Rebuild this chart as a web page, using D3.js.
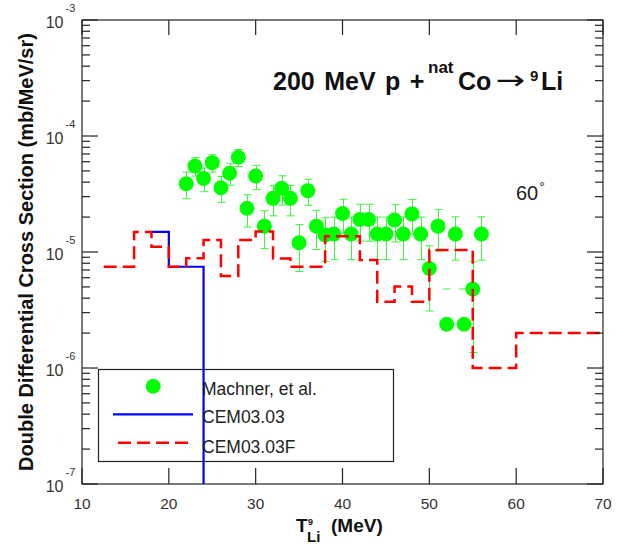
<!DOCTYPE html>
<html>
<head>
<meta charset="utf-8">
<script src="https://cdn.jsdelivr.net/npm/d3@7"></script>
<style>
  html, body { margin: 0; padding: 0; background: #fff; }
  svg { display: block; font-family: "Liberation Sans", Arial, Helvetica, sans-serif; }
</style>
</head>
<body>
<svg id="chart" width="629" height="547"></svg>
<script>
// Measured 9Li spectrum (Machner et al.), 60 degrees
const expEnergy = [22, 23, 24, 25, 26, 27, 28, 29, 30, 31, 32, 33, 34, 35, 36, 37, 38, 39,
                   40, 41, 42, 43, 44, 45, 46, 47, 48, 49, 50, 51, 52, 53, 54, 55, 56];
const expValue = [3.88e-5, 5.51e-5, 4.31e-5, 5.89e-5, 3.58e-5, 4.77e-5, 6.55e-5, 2.38e-5, 4.52e-5,
                  1.67e-5, 2.90e-5, 3.54e-5, 2.90e-5, 1.20e-5, 3.38e-5, 1.67e-5, 1.40e-5, 1.43e-5,
                  2.15e-5, 1.43e-5, 1.91e-5, 1.91e-5, 1.43e-5, 1.43e-5, 1.89e-5, 1.43e-5, 2.13e-5,
                  1.43e-5, 7.2e-6, 1.67e-5, 2.38e-6, 1.43e-5, 2.38e-6, 4.8e-6, 1.43e-5];
const expError = [1.0e-5, 1.0e-5, 1.0e-5, 1.0e-5, 0.9e-5, 1.0e-5, 1.1e-5, 0.74e-5, 1.07e-5,
                  0.6e-5, 0.85e-5, 1.0e-5, 0.85e-5, 0.52e-5, 0.85e-5, 0.62e-5, 0.57e-5, 0.57e-5,
                  0.7e-5, 0.57e-5, 0.67e-5, 0.67e-5, 0.57e-5, 0.57e-5, 0.67e-5, 0.57e-5, 0.7e-5,
                  0.57e-5, 0.41e-5, 0.65e-5, 0, 0.58e-5, 0, 0.344e-5, 0.58e-5];
// horizontal (energy) error on the low side, drawn dashed
const expXErrLow = { 55: 3.4 };

// CEM03.03 histogram (bin edges in MeV, bin contents)
const cemEdges = [18, 20, 24];
const cemValues = [1.49e-5, 7.46e-6];

// CEM03.03F histogram
const cemFEdges = [12.5, 16, 18, 20, 22, 24, 26, 28, 30, 32, 34, 38, 42, 44, 46, 48, 50, 55, 60, 70];
const cemFValues = [7.46e-6, 1.49e-5, 1.11e-5, 7.46e-6, 8.83e-6, 1.27e-5, 6.21e-6, 1.27e-5, 1.50e-5,
                    8.79e-6, 7.46e-6, 1.37e-5, 8.53e-6, 3.73e-6, 5.03e-6, 3.73e-6, 1.04e-5, 1.0e-6, 2.0e-6];

const xTickValues = [10, 20, 30, 40, 50, 60, 70];
const yDecades = [1e-7, 1e-6, 1e-5, 1e-4, 1e-3];
const yExponents = [-7, -6, -5, -4, -3];

const legendLabels = ["Machner, et al.", "CEM03.03", "CEM03.03F"];

const svg = d3.select("#chart");
const L = 82, R = 603, T = 20, B = 484;

const x = d3.scaleLinear().domain([10, 70]).range([L, R]);
const y = d3.scaleLog().domain([1e-7, 1e-3]).range([B, T]);

svg.append("defs").append("clipPath").attr("id", "plotclip")
  .append("rect").attr("x", L).attr("y", T).attr("width", R - L).attr("height", B - T);

const plot = svg.append("g").attr("clip-path", "url(#plotclip)");

// experimental points with error bars
const pts = expEnergy.map((e, i) => ({ e, v: expValue[i], err: expError[i], xl: expXErrLow[e] || 0 }));
const errColor = "#3cf53c";
const capW = 4;
const eb = plot.append("g").attr("stroke", errColor).attr("stroke-width", 1).attr("fill", "none");
pts.filter(d => d.err > 0).forEach(d => {
  const y0 = y(d.v + d.err), y1 = y(Math.max(d.v - d.err, 1e-9));
  const cx = Math.round(x(d.e)) + 0.5;
  eb.append("line").attr("x1", cx).attr("x2", cx).attr("y1", y0).attr("y2", y1);
  eb.append("line").attr("x1", cx - capW).attr("x2", cx + capW).attr("y1", y0).attr("y2", y0);
  eb.append("line").attr("x1", cx - capW).attr("x2", cx + capW).attr("y1", y1).attr("y2", y1);
});
pts.filter(d => d.xl > 0).forEach(d => {
  eb.append("line").attr("x1", x(d.e - d.xl)).attr("x2", x(d.e))
    .attr("y1", y(d.v)).attr("y2", y(d.v)).attr("stroke-dasharray", "7,9");
});
plot.append("g").selectAll("circle").data(pts).join("circle")
  .attr("cx", d => x(d.e)).attr("cy", d => y(d.v)).attr("r", 7.5)
  .attr("fill", "#00ff00");

// histogram step lines
function stepPoints(edges, values, dropToFloor) {
  const p = values.map((v, i) => [edges[i], v]);
  const last = edges[edges.length - 1];
  p.push([last, dropToFloor ? 1e-9 : values[values.length - 1]]);
  return p;
}
const yClamp = v => v < 1e-7 ? B + 10 : y(v);
const stepLine = d3.line().x(d => x(d[0])).y(d => yClamp(d[1])).curve(d3.curveStepAfter);

plot.append("path").attr("d", stepLine(stepPoints(cemEdges, cemValues, true)))
  .attr("fill", "none").attr("stroke", "#0000ff").attr("stroke-width", 2.2);
plot.append("path").attr("d", stepLine(stepPoints(cemFEdges, cemFValues, false)))
  .attr("fill", "none").attr("stroke", "#ff0000").attr("stroke-width", 2.5)
  .attr("stroke-dasharray", "13,6");

// frame
const axisColor = "#222";
svg.append("rect").attr("x", L).attr("y", T).attr("width", R - L).attr("height", B - T)
  .attr("fill", "none").attr("stroke", axisColor).attr("stroke-width", 1.2);

// x ticks (inward, bottom and top)
const xMajor = 16;
const tg = svg.append("g").attr("stroke", axisColor).attr("stroke-width", 1.2);
xTickValues.forEach(v => {
  const px = x(v);
  tg.append("line").attr("x1", px).attr("x2", px).attr("y1", B).attr("y2", B - xMajor);
  tg.append("line").attr("x1", px).attr("x2", px).attr("y1", T).attr("y2", T + 15);
});
svg.append("g").selectAll("text").data(xTickValues).join("text")
  .attr("x", d => x(d)).attr("y", 508.5).attr("text-anchor", "middle")
  .attr("font-size", 15.5).attr("fill", "#333").text(d => d);

// y ticks: decades major, 2..9 minor, on both sides
const yMinor = [];
yDecades.slice(0, -1).forEach(d => { for (let k = 2; k <= 9; k++) yMinor.push(d * k); });
yDecades.forEach(v => {
  const py = y(v);
  tg.append("line").attr("x1", L).attr("x2", L + 16).attr("y1", py).attr("y2", py);
  tg.append("line").attr("x1", R).attr("x2", R - 16).attr("y1", py).attr("y2", py);
});
yMinor.forEach(v => {
  const py = y(v);
  tg.append("line").attr("x1", L).attr("x2", L + 8).attr("y1", py).attr("y2", py);
  tg.append("line").attr("x1", R).attr("x2", R - 8).attr("y1", py).attr("y2", py);
});
const yl = svg.append("g").attr("fill", "#333");
yDecades.forEach((v, i) => {
  const py = y(v);
  yl.append("text").attr("x", 63.5).attr("y", py + 8).attr("text-anchor", "end")
    .attr("font-size", 16).text("10");
  yl.append("text").attr("x", 65.5).attr("y", py - 8.5).attr("font-size", 11)
    .text(yExponents[i]);
});

// axis titles
svg.append("text").attr("transform", "translate(33,252) rotate(-90)")
  .attr("text-anchor", "middle").attr("font-size", 20).attr("font-weight", "bold")
  .attr("fill", "#111").text("Double Differential Cross Section (mb/MeV/sr)");

const xt = svg.append("g").attr("font-weight", "bold").attr("fill", "#111");
xt.append("text").attr("x", 296).attr("y", 531.7).attr("font-size", 19).text("T");
xt.append("text").attr("x", 308).attr("y", 525).attr("font-size", 9).text("9");
xt.append("text").attr("x", 307).attr("y", 541.7).attr("font-size", 15).text("Li");
xt.append("text").attr("x", 331).attr("y", 531.7).attr("font-size", 19).text("(MeV)");

// reaction title: projectile + target, arrow, product
const titleY = 90;
const titleA = svg.append("text").attr("y", titleY).attr("font-size", 25)
  .attr("font-weight", "bold").attr("fill", "#111");
titleA.append("tspan").attr("x", 273).attr("word-spacing", 2.5).text("200 MeV p +");
titleA.append("tspan").attr("x", 428).attr("font-size", 17).attr("dy", -17).text("nat");
titleA.append("tspan").attr("x", 458).attr("dy", 17).text("Co");
svg.append("text").attr("transform", `translate(496,${titleY - 1}) scale(1.35,1)`)
  .attr("font-family", "DejaVu Sans").attr("font-size", 26).attr("fill", "#111").text("\u2192");
const titleB = svg.append("text").attr("y", titleY)
  .attr("font-size", 25).attr("font-weight", "bold").attr("fill", "#111");
titleB.append("tspan").attr("x", 530).attr("font-size", 15).attr("dy", -9).text("9");
titleB.append("tspan").attr("x", 541).attr("dy", 9).text("Li");

// angle label
const ang = svg.append("text").attr("x", 516).attr("y", 200).attr("font-size", 20).attr("fill", "#222");
ang.append("tspan").text("60");
ang.append("tspan").attr("font-size", 14).attr("dy", -8).attr("dx", 1).text("\u00b0");

// legend (unfilled box)
const lg = svg.append("g");
lg.append("rect").attr("x", 98.5).attr("y", 369.5).attr("width", 295).attr("height", 92)
  .attr("fill", "none").attr("stroke", axisColor).attr("stroke-width", 1.2);
lg.append("circle").attr("cx", 153.2).attr("cy", 386.3).attr("r", 7.5).attr("fill", "#00ff00");
lg.append("line").attr("x1", 113).attr("x2", 193).attr("y1", 414.3).attr("y2", 414.3)
  .attr("stroke", "#0000ff").attr("stroke-width", 2.2);
lg.append("line").attr("x1", 118).attr("x2", 189).attr("y1", 442.7).attr("y2", 442.7)
  .attr("stroke", "#ff0000").attr("stroke-width", 2.5).attr("stroke-dasharray", "13,6");
const legendY = [395, 423.3, 453.3];
lg.selectAll("text.lab").data(legendLabels).join("text").attr("class", "lab")
  .attr("x", 202).attr("y", (d, i) => legendY[i]).attr("font-size", 17.5).attr("fill", "#222")
  .text(d => d);
</script>
</body>
</html>
